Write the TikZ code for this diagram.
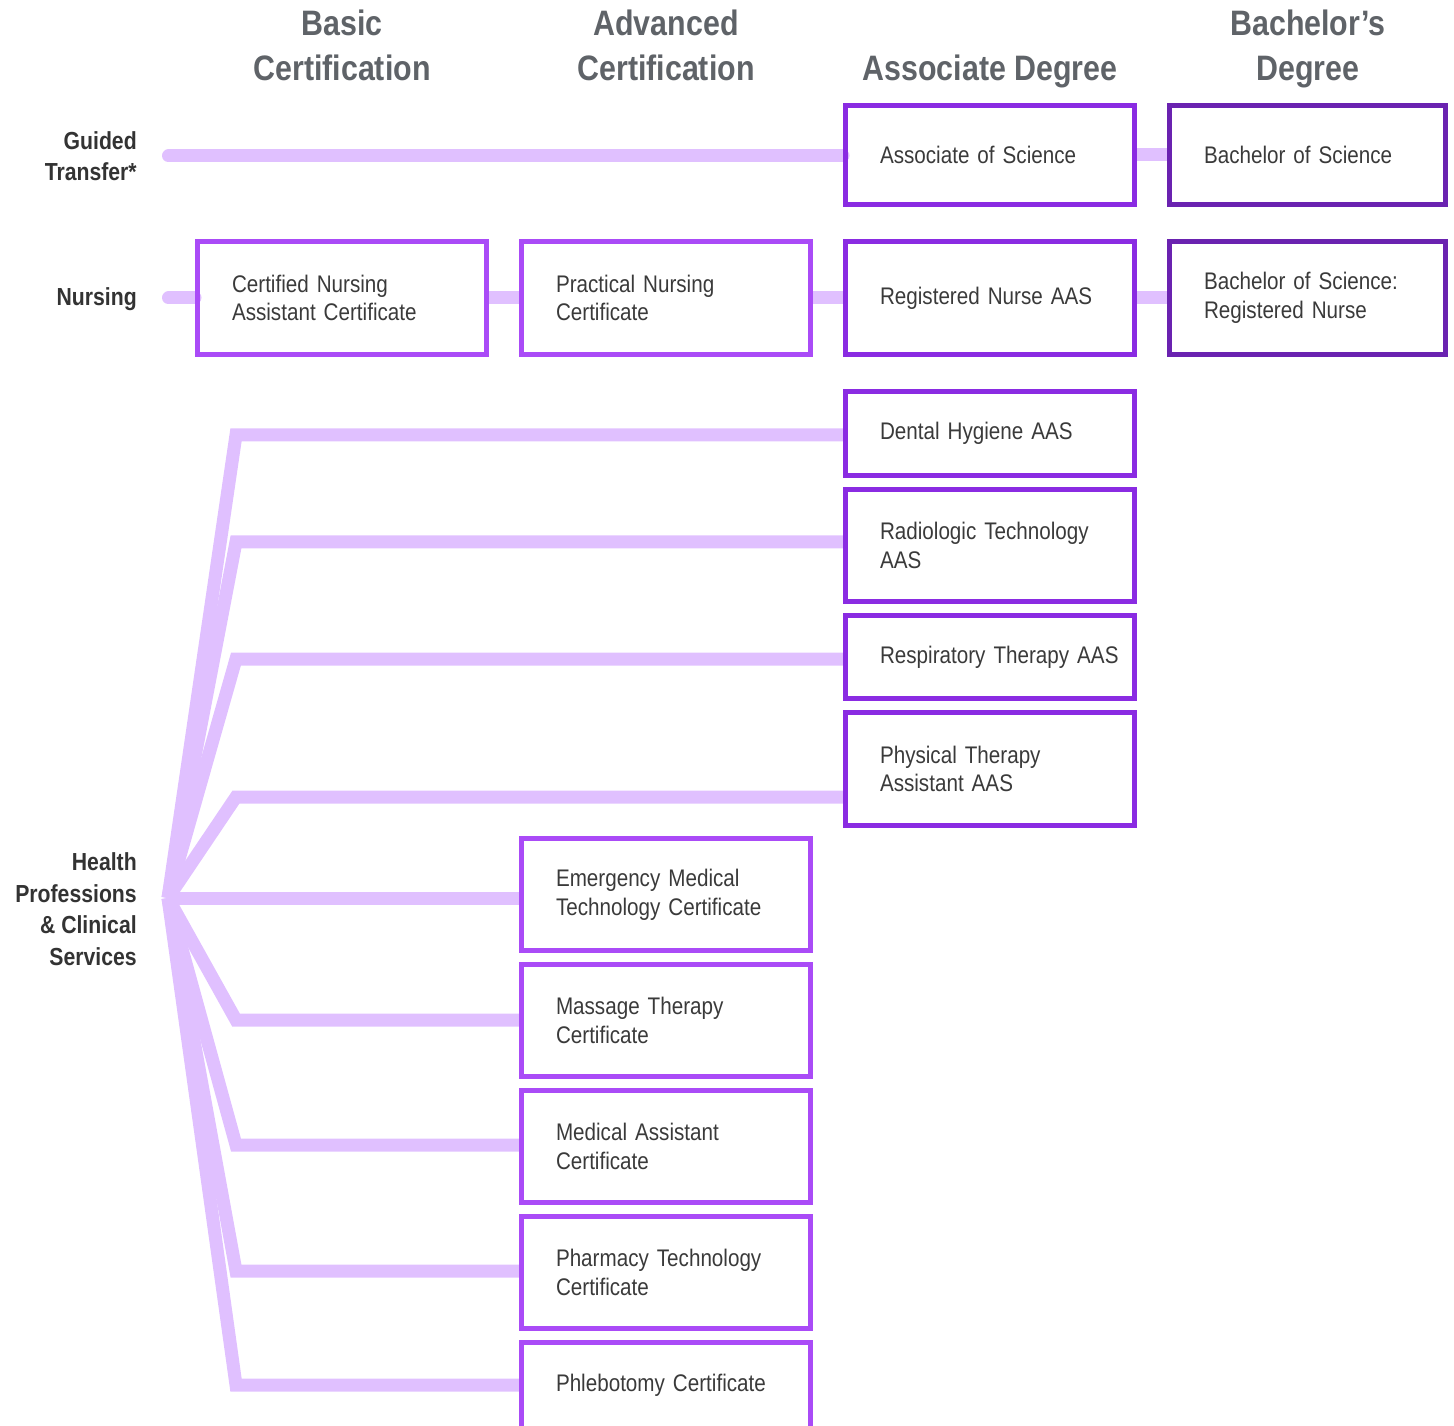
\documentclass[tikz,border=0pt]{standalone}
\usepackage{fontspec}
\setmainfont{Liberation Sans}[FakeStretch=0.86]
\usetikzlibrary{backgrounds}
\definecolor{lav}{HTML}{E0C0FF}
\definecolor{pA}{HTML}{AA4BF7}
\definecolor{pC}{HTML}{8A2BE2}
\definecolor{pD}{HTML}{6A22B0}
\definecolor{hdr}{HTML}{5F6368}
\definecolor{lbl}{HTML}{333333}
\definecolor{txt}{HTML}{3A3A3A}
\hfuzz=200pt
\hbadness=10000
\begin{document}
\begin{tikzpicture}[x=0.75pt,y=-0.75pt,
  box/.style={draw=pA, line width=3.75pt, minimum width=216.75pt, text width=165pt,
    inner xsep=25.875pt, inner ysep=0pt, align=left, text=txt,
    font=\fontsize{18pt}{21.5pt}\selectfont},
  cbox/.style={box, draw=pC},
  dbox/.style={box, draw=pD, minimum width=207pt, text width=155.25pt},
  hA/.style={minimum height=63pt},
  hB/.style={minimum height=84pt},
  hR/.style={minimum height=74.25pt},
  link/.style={draw=lav, line width=9.75pt},
  head/.style={anchor=north, inner sep=0pt, align=center, text=hdr,
    font=\bfseries\fontsize{26.5pt}{33.75pt}\selectfont},
  rowlbl/.style={anchor=east, inner sep=0pt, align=right, text=lbl,
    font=\bfseries\fontsize{18.5pt}{23.6pt}\selectfont}
]
\useasboundingbox (0,0) rectangle (1454,1426);
\clip (0,0) rectangle (1454,1426);

% headers
\node[head] (h1) at (342,10) {Basic\\Certification};
\node[head] (h2) at (666,10) {Advanced\\Certification};
\node[head] (h3) at (990,55) {Associate Degree};
\node[head] (h4) at (1308,10) {Bachelor’s\\Degree};

% row labels
\node[rowlbl] (lg) at (137,156) {Guided\\Transfer*};
\node[rowlbl] (ln) at (137,299) {Nursing};
\node[rowlbl] (lh) at (137,909) {Health\\Professions\\\& Clinical\\Services};

% guided transfer row
\node[cbox, hR] (as) at (990,155) {Associate of Science};
\node[dbox, hR] (bs) at (1307.5,155) {Bachelor of Science};

% nursing row
\node[box, minimum height=84.75pt] (cna) at (342,298) {Certified Nursing\\Assistant Certificate};
\node[box, minimum height=84.75pt] (pn) at (666,298) {Practical Nursing\\Certificate};
\node[cbox, minimum height=84.75pt] (rn) at (990,298) {Registered Nurse AAS};
\node[dbox, minimum height=84.75pt] (bsrn) at (1307.5,298) {Bachelor of Science:\\Registered Nurse};

% health associate
\node[cbox, hA] (dh) at (990,433.5) {Dental Hygiene AAS};
\node[cbox, hB] (rt) at (990,545.5) {Radiologic Technology\\AAS};
\node[cbox, minimum height=62.25pt] (resp) at (990,657) {\mbox{Respiratory Therapy AAS}};
\node[cbox, minimum height=84.75pt] (pta) at (990,769) {Physical Therapy\\Assistant AAS};

% health certificates
\node[box, hB] (emt) at (666,894.5) {Emergency Medical\\Technology Certificate};
\node[box, hB] (mt) at (666,1020.5) {Massage Therapy\\Certificate};
\node[box, hB] (ma) at (666,1146.5) {Medical Assistant\\Certificate};
\node[box, hB] (ph) at (666,1272.5) {Pharmacy Technology\\Certificate};
\node[box, minimum height=64.5pt] (phl) at (666,1385.5) {\mbox{Phlebotomy Certificate}};

\coordinate (gstart) at (168.5,156);
\coordinate (nstart) at (168.5,298);
\coordinate (fan) at (168,898);

\begin{pgfonlayer}{background}
  \draw[link, line cap=round] (gstart) -- (as.west |- gstart);
  \draw[link] (as.east) -- (bs.west);
  \draw[link, line cap=round] (nstart) -- (cna.west |- nstart);
  \draw[link] (cna.east) -- (pn.west);
  \draw[link] (pn.east) -- (rn.west);
  \draw[link] (rn.east) -- (bsrn.west);

  \draw[link] (fan) -- (236,435) -- (dh.west |- 236,435);
  \draw[link] (fan) -- (236,542) -- (rt.west |- 236,542);
  \draw[link] (fan) -- (236,659) -- (resp.west |- 236,659);
  \draw[link] (fan) -- (236,797) -- (pta.west |- 236,797);
  \draw[link] (fan) -- (emt.west |- fan);
  \draw[link] (fan) -- (236,1020) -- (mt.west |- 236,1020);
  \draw[link] (fan) -- (236,1145) -- (ma.west |- 236,1145);
  \draw[link] (fan) -- (236,1271) -- (ph.west |- 236,1271);
  \draw[link] (fan) -- (236,1385) -- (phl.west |- 236,1385);
\end{pgfonlayer}
\end{tikzpicture}
\end{document}
